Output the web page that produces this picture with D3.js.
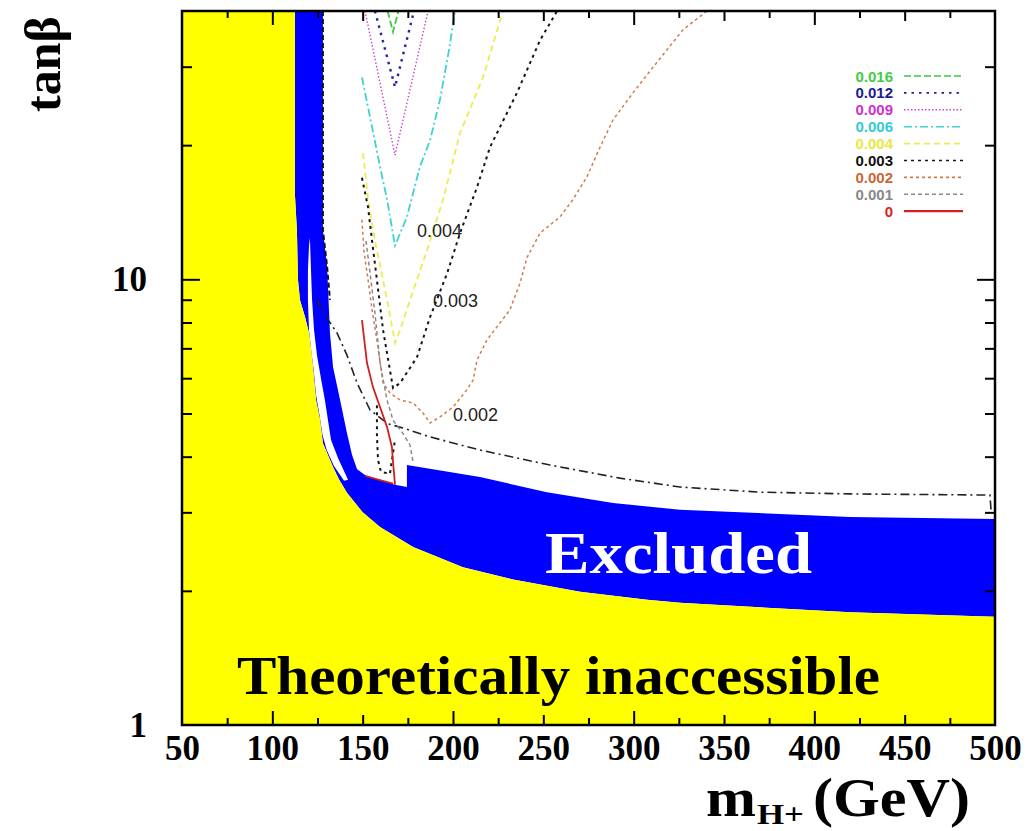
<!DOCTYPE html>
<html>
<head>
<meta charset="utf-8">
<script src="https://cdn.jsdelivr.net/npm/d3@7"></script>
<style>
  body { margin: 0; background: #fff; }
  svg { display: block; }
</style>
</head>
<body>
<svg id="chart" width="1028" height="831"></svg>
<script>
// ---- axis ticks and labels ----
const xLabelTicks = [50, 100, 150, 200, 250, 300, 350, 400, 450, 500];
const xMajorTicks = [100, 200, 300, 400];
const xMidTicks = [150, 250, 350, 450];
const xMinorTicks = [75, 125, 175, 225, 275, 325, 375, 425, 475];
const yLabelTicks = [1, 10];
const yMajorTicks = [10];
const yMinorTicks = [2, 3, 4, 5, 6, 7, 8, 9, 20, 30];

// ---- regions, [m_H+ (GeV), tan beta] ----
// boundary of the theoretically inaccessible region
const theoryEdge = [
  [112.5, 40], [112.5, 15.5], [113.6, 12.9], [114.2, 9.96], [115.3, 8.99], [118.1, 8.23],
  [120.3, 7.58], [121.4, 6.94], [122.5, 6.36], [124.2, 5.36], [126.4, 4.83], [128.0, 4.29],
  [133.6, 3.79], [137.0, 3.55], [141.3, 3.32], [150.0, 3.0], [159.6, 2.78], [177.9, 2.51],
  [205.5, 2.26], [233.2, 2.12], [270.3, 1.99], [307.4, 1.91], [325.6, 1.88], [419.7, 1.79],
  [500, 1.75]
];
// upper / right edge of the excluded band
const excludedEdge = [
  [112.5, 40], [128.0, 40], [128.0, 12.9], [130.3, 10.7], [131.9, 7.58], [133.6, 6.36],
  [137.5, 5.36], [141.3, 4.52], [144.1, 4.04], [146.9, 3.75], [151.3, 3.64], [159.6, 3.55],
  [167.9, 3.46], [174.5, 3.42], [174.5, 3.83], [214.9, 3.60], [252.0, 3.33], [288.6, 3.15],
  [325.6, 3.04], [419.7, 2.93], [500, 2.90]
];
// allowed strip inside the excluded band
const excludedGap = [
  [120.8, 12.4], [121.4, 10.5], [122.0, 8.99], [123.1, 7.69], [124.7, 6.76], [126.9, 6.00],
  [129.1, 5.36], [130.8, 4.83], [132.5, 4.36], [136.4, 3.97], [141.9, 3.55],
  [139.7, 3.53], [134.1, 3.81], [130.1, 4.14], [127.8, 4.47], [126.1, 4.96], [124.2, 5.50],
  [122.9, 6.26], [121.6, 6.87], [120.3, 7.69], [119.7, 8.99], [119.7, 10.5], [120.3, 11.9]
];
const bandEdgeLine = [[128.0, 40], [128.0, 12.9], [130.3, 10.7], [131.9, 8.99]];
const exclusionCurve = [
  [124.7, 8.99], [129.1, 8.32], [135.8, 7.58], [141.3, 6.76], [146.9, 5.85], [154.1, 5.09],
  [164.0, 4.74], [172.3, 4.64], [187.3, 4.43], [214.9, 4.14], [253.7, 3.83], [292.4, 3.58],
  [325.6, 3.42], [369.9, 3.33], [419.7, 3.30], [497.2, 3.28], [497.8, 3.04]
];

// ---- contours of constant value ----
const contourLevels = ["0.016", "0.012", "0.009", "0.006", "0.004", "0.003", "0.002", "0.001", "0"];
const contour016 = [[163.8, 40], [166.8, 35.9], [169.8, 40]];
const contour012 = [[156.8, 40], [167.9, 27.0], [178.4, 40]];
const contour009 = [[151.3, 40], [167.9, 19.0], [186.2, 40]];
const contour006 = [
  [149.6, 28.4], [154.1, 23.1], [159.6, 17.9], [163.5, 15.1], [167.9, 11.9], [174.5, 13.8],
  [181.7, 17.9], [187.3, 20.5], [192.8, 25.3], [197.8, 32.7], [201.1, 40]
];
const contour004 = [
  [150.2, 19.2], [153.0, 15.1], [156.8, 12.2], [161.3, 9.96], [165.1, 8.32], [167.9, 7.20],
  [170.7, 7.69], [176.2, 8.99], [185.6, 11.6], [194.5, 15.1], [203.9, 21.3], [216.6, 28.4],
  [227.7, 40]
];
const contour003 = [
  [149.6, 16.9], [153.0, 14.5], [155.2, 12.2], [157.9, 9.96], [161.3, 7.69], [165.1, 6.26],
  [166.8, 5.70], [170.7, 5.85], [180.1, 6.69], [187.3, 8.23], [196.7, 10.3], [203.9, 12.7],
  [213.3, 16.1], [220.5, 19.8], [235.4, 26.2], [248.2, 34.4], [257.6, 40]
];
const contour003Low = [
  [157.9, 5.22], [157.9, 4.47], [158.5, 3.93], [160.1, 3.70], [165.1, 3.66], [166.2, 3.93], [167.9, 4.36]
];
const contour002 = [
  [149.6, 13.6], [150.7, 11.6], [153.0, 9.96], [155.2, 8.54], [157.9, 7.31], [161.3, 5.85],
  [165.1, 5.56], [170.7, 5.36], [177.9, 5.28], [183.4, 5.01], [187.3, 4.76], [192.8, 4.91],
  [200.0, 5.17], [207.7, 5.65], [211.1, 5.94], [213.3, 6.59], [218.8, 7.31], [224.3, 7.82],
  [231.5, 8.54], [237.1, 9.81], [241.0, 11.2], [248.2, 12.7], [259.2, 13.8], [266.4, 15.1],
  [274.2, 17.0], [281.4, 19.8], [288.6, 22.8], [299.6, 26.2], [310.7, 29.9], [327.3, 36.3],
  [340.6, 40]
];
const contour001 = [
  [151.8, 12.2], [153.0, 11.2], [156.8, 8.40], [159.6, 6.49], [163.5, 5.36], [166.8, 4.83],
  [171.8, 4.54], [176.2, 4.25], [177.9, 3.89]
];
const contour0 = [
  [149.6, 8.10], [152.4, 6.49], [155.7, 5.73], [159.6, 5.17], [163.5, 4.66], [166.2, 4.20],
  [166.8, 3.89], [167.9, 3.46]
];
const contour0Low = [[151.3, 3.62], [166.8, 3.48]];

// contour labels: [level, m_H+, tan beta]
const contourLabels = [["0.004", 180.1, 12.44], ["0.003", 188.9, 8.66], ["0.002", 200.0, 4.81]];

// ---- drawing ----
const frame = { left: 182, right: 995, top: 11, bottom: 725 };
const x = d3.scaleLinear().domain([50, 500]).range([frame.left, frame.right]);
const y = d3.scaleLog().domain([1, 40]).range([frame.bottom, frame.top]);

const svg = d3.select("#chart");
const serif = "'Liberation Serif', 'Times New Roman', serif";
const sans = "'Liberation Sans', Arial, sans-serif";

svg.append("rect").attr("width", 1028).attr("height", 831).attr("fill", "#fff");
svg.append("defs").append("clipPath").attr("id", "plotClip")
  .append("rect")
  .attr("x", frame.left).attr("y", frame.top)
  .attr("width", frame.right - frame.left).attr("height", frame.bottom - frame.top);

const plot = svg.append("g").attr("clip-path", "url(#plotClip)");
const line = d3.line().x(d => x(d[0])).y(d => y(d[1]));

// excluded band
plot.append("path")
  .attr("d", line([...excludedEdge, ...theoryEdge.slice().reverse()]) + "Z")
  .attr("fill", "#0000ff");
plot.append("path")
  .attr("d", line(excludedGap) + "Z")
  .attr("fill", "#ffffff");
// theoretically inaccessible region
plot.append("path")
  .attr("d", line([[50, 40], ...theoryEdge, [500, 1], [50, 1]]) + "Z")
  .attr("fill", "#ffff00");

// black limit lines
plot.append("path").attr("d", line(bandEdgeLine))
  .attr("fill", "none").attr("stroke", "#111").attr("stroke-width", 2)
  .attr("stroke-dasharray", "5,3");
plot.append("path").attr("d", line(exclusionCurve))
  .attr("fill", "none").attr("stroke", "#222").attr("stroke-width", 1.6)
  .attr("stroke-dasharray", "9,4,2,4");

const levelStyle = {
  "0.016": { color: "#3ec83e", text: "#44cc44", dash: "7,3", width: 1.8 },
  "0.012": { color: "#24249c", text: "#1c1c96", dash: "2.5,5", width: 2.4 },
  "0.009": { color: "#cc44cc", text: "#cc33cc", dash: "1.5,2", width: 1.4 },
  "0.006": { color: "#3ed2d2", text: "#33cccc", dash: "8,3,2,3", width: 1.8 },
  "0.004": { color: "#ecec50", text: "#e8e840", dash: "6,4", width: 1.8 },
  "0.003": { color: "#151515", text: "#111111", dash: "3,4", width: 2 },
  "0.002": { color: "#d27a4c", text: "#cc6633", dash: "3,3", width: 1.5 },
  "0.001": { color: "#8a8a8a", text: "#888888", dash: "4,3", width: 1.5 },
  "0":     { color: "#d02020", text: "#dd2222", dash: null, width: 1.8 }
};
const contourPaths = [
  ["0.016", contour016], ["0.012", contour012], ["0.009", contour009], ["0.006", contour006],
  ["0.004", contour004], ["0.003", contour003], ["0.003", contour003Low], ["0.002", contour002],
  ["0.001", contour001], ["0", contour0], ["0", contour0Low]
];
plot.selectAll("path.contour")
  .data(contourPaths)
  .join("path")
  .attr("class", "contour")
  .attr("d", d => line(d[1]))
  .attr("fill", "none")
  .attr("stroke", d => levelStyle[d[0]].color)
  .attr("stroke-width", d => levelStyle[d[0]].width)
  .attr("stroke-dasharray", d => levelStyle[d[0]].dash);

plot.selectAll("text.clabel")
  .data(contourLabels)
  .join("text")
  .attr("class", "clabel")
  .attr("x", d => x(d[1])).attr("y", d => y(d[2]))
  .attr("font-family", sans).attr("font-size", 18).attr("fill", "#222")
  .text(d => d[0]);

// region names
svg.append("text")
  .attr("x", 545).attr("y", 573)
  .attr("font-family", serif).attr("font-weight", "bold").attr("font-size", 60)
  .attr("fill", "#fff")
  .attr("textLength", 267).attr("lengthAdjust", "spacingAndGlyphs")
  .text("Excluded");
svg.append("text")
  .attr("x", 237).attr("y", 694)
  .attr("font-family", serif).attr("font-weight", "bold").attr("font-size", 54)
  .attr("fill", "#000")
  .attr("textLength", 643).attr("lengthAdjust", "spacingAndGlyphs")
  .text("Theoretically inaccessible");

// legend
const legend = svg.append("g");
const legendRow = (d, i) => 76 + i * 16.9;
legend.selectAll("text")
  .data(contourLevels)
  .join("text")
  .attr("x", 893).attr("y", (d, i) => legendRow(d, i) + 5.5)
  .attr("text-anchor", "end")
  .attr("font-family", sans).attr("font-weight", "bold").attr("font-size", 15)
  .attr("fill", d => levelStyle[d].text)
  .text(d => d);
legend.selectAll("line")
  .data(contourLevels)
  .join("line")
  .attr("x1", 904).attr("x2", 963)
  .attr("y1", legendRow).attr("y2", legendRow)
  .attr("stroke", d => levelStyle[d].color)
  .attr("stroke-width", d => d === "0" ? 2.2 : 1.6)
  .attr("stroke-dasharray", d => levelStyle[d].dash);

// frame
svg.append("rect")
  .attr("x", frame.left).attr("y", frame.top)
  .attr("width", frame.right - frame.left).attr("height", frame.bottom - frame.top)
  .attr("fill", "none").attr("stroke", "#000").attr("stroke-width", 2.5);

// inward tick marks on all four sides
function ticks(axisFn, scale, values, size, transform) {
  const g = svg.append("g").attr("transform", transform)
    .call(axisFn(scale).tickValues(values).tickSize(-size).tickFormat(""));
  g.select(".domain").remove();
  g.selectAll("line").attr("stroke", "#000").attr("stroke-width", 2);
}
[[xMajorTicks, 14], [xMidTicks, 10], [xMinorTicks, 7]].forEach(([v, s]) => {
  ticks(d3.axisBottom, x, v, s, `translate(0,${frame.bottom})`);
  ticks(d3.axisTop, x, v, s, `translate(0,${frame.top})`);
});
[[yMajorTicks, 18], [yMinorTicks, 10]].forEach(([v, s]) => {
  ticks(d3.axisLeft, y, v, s, `translate(${frame.left},0)`);
  ticks(d3.axisRight, y, v, s, `translate(${frame.right},0)`);
});

// tick labels
const xLab = svg.append("g").attr("transform", `translate(0,${frame.bottom})`)
  .call(d3.axisBottom(x).tickValues(xLabelTicks).tickSize(0).tickPadding(10).tickFormat(d3.format("d")));
xLab.select(".domain").remove();
xLab.selectAll("text").attr("font-family", serif).attr("font-weight", "bold")
  .attr("font-size", 35).attr("fill", "#000");

const yLab = svg.append("g").attr("transform", `translate(${frame.left},0)`)
  .call(d3.axisLeft(y).tickValues(yLabelTicks).tickSize(0).tickPadding(35).tickFormat(d3.format("d")));
yLab.select(".domain").remove();
yLab.selectAll("text").attr("font-family", serif).attr("font-weight", "bold")
  .attr("font-size", 35).attr("fill", "#000");

// axis titles
svg.append("text")
  .attr("transform", "translate(60,64) rotate(-90)")
  .attr("text-anchor", "middle")
  .attr("font-family", serif).attr("font-weight", "bold").attr("font-size", 50)
  .text("tanβ");
const xt = svg.append("g").attr("font-family", serif).attr("font-weight", "bold");
xt.append("text").attr("x", 706).attr("y", 816).attr("font-size", 54)
  .attr("textLength", 50).attr("lengthAdjust", "spacingAndGlyphs").text("m");
xt.append("text").attr("x", 757).attr("y", 824).attr("font-size", 30)
  .attr("textLength", 47).attr("lengthAdjust", "spacingAndGlyphs").text("H+");
xt.append("text").attr("x", 813).attr("y", 816).attr("font-size", 54)
  .attr("textLength", 157).attr("lengthAdjust", "spacingAndGlyphs").text("(GeV)");
</script>
</body>
</html>
